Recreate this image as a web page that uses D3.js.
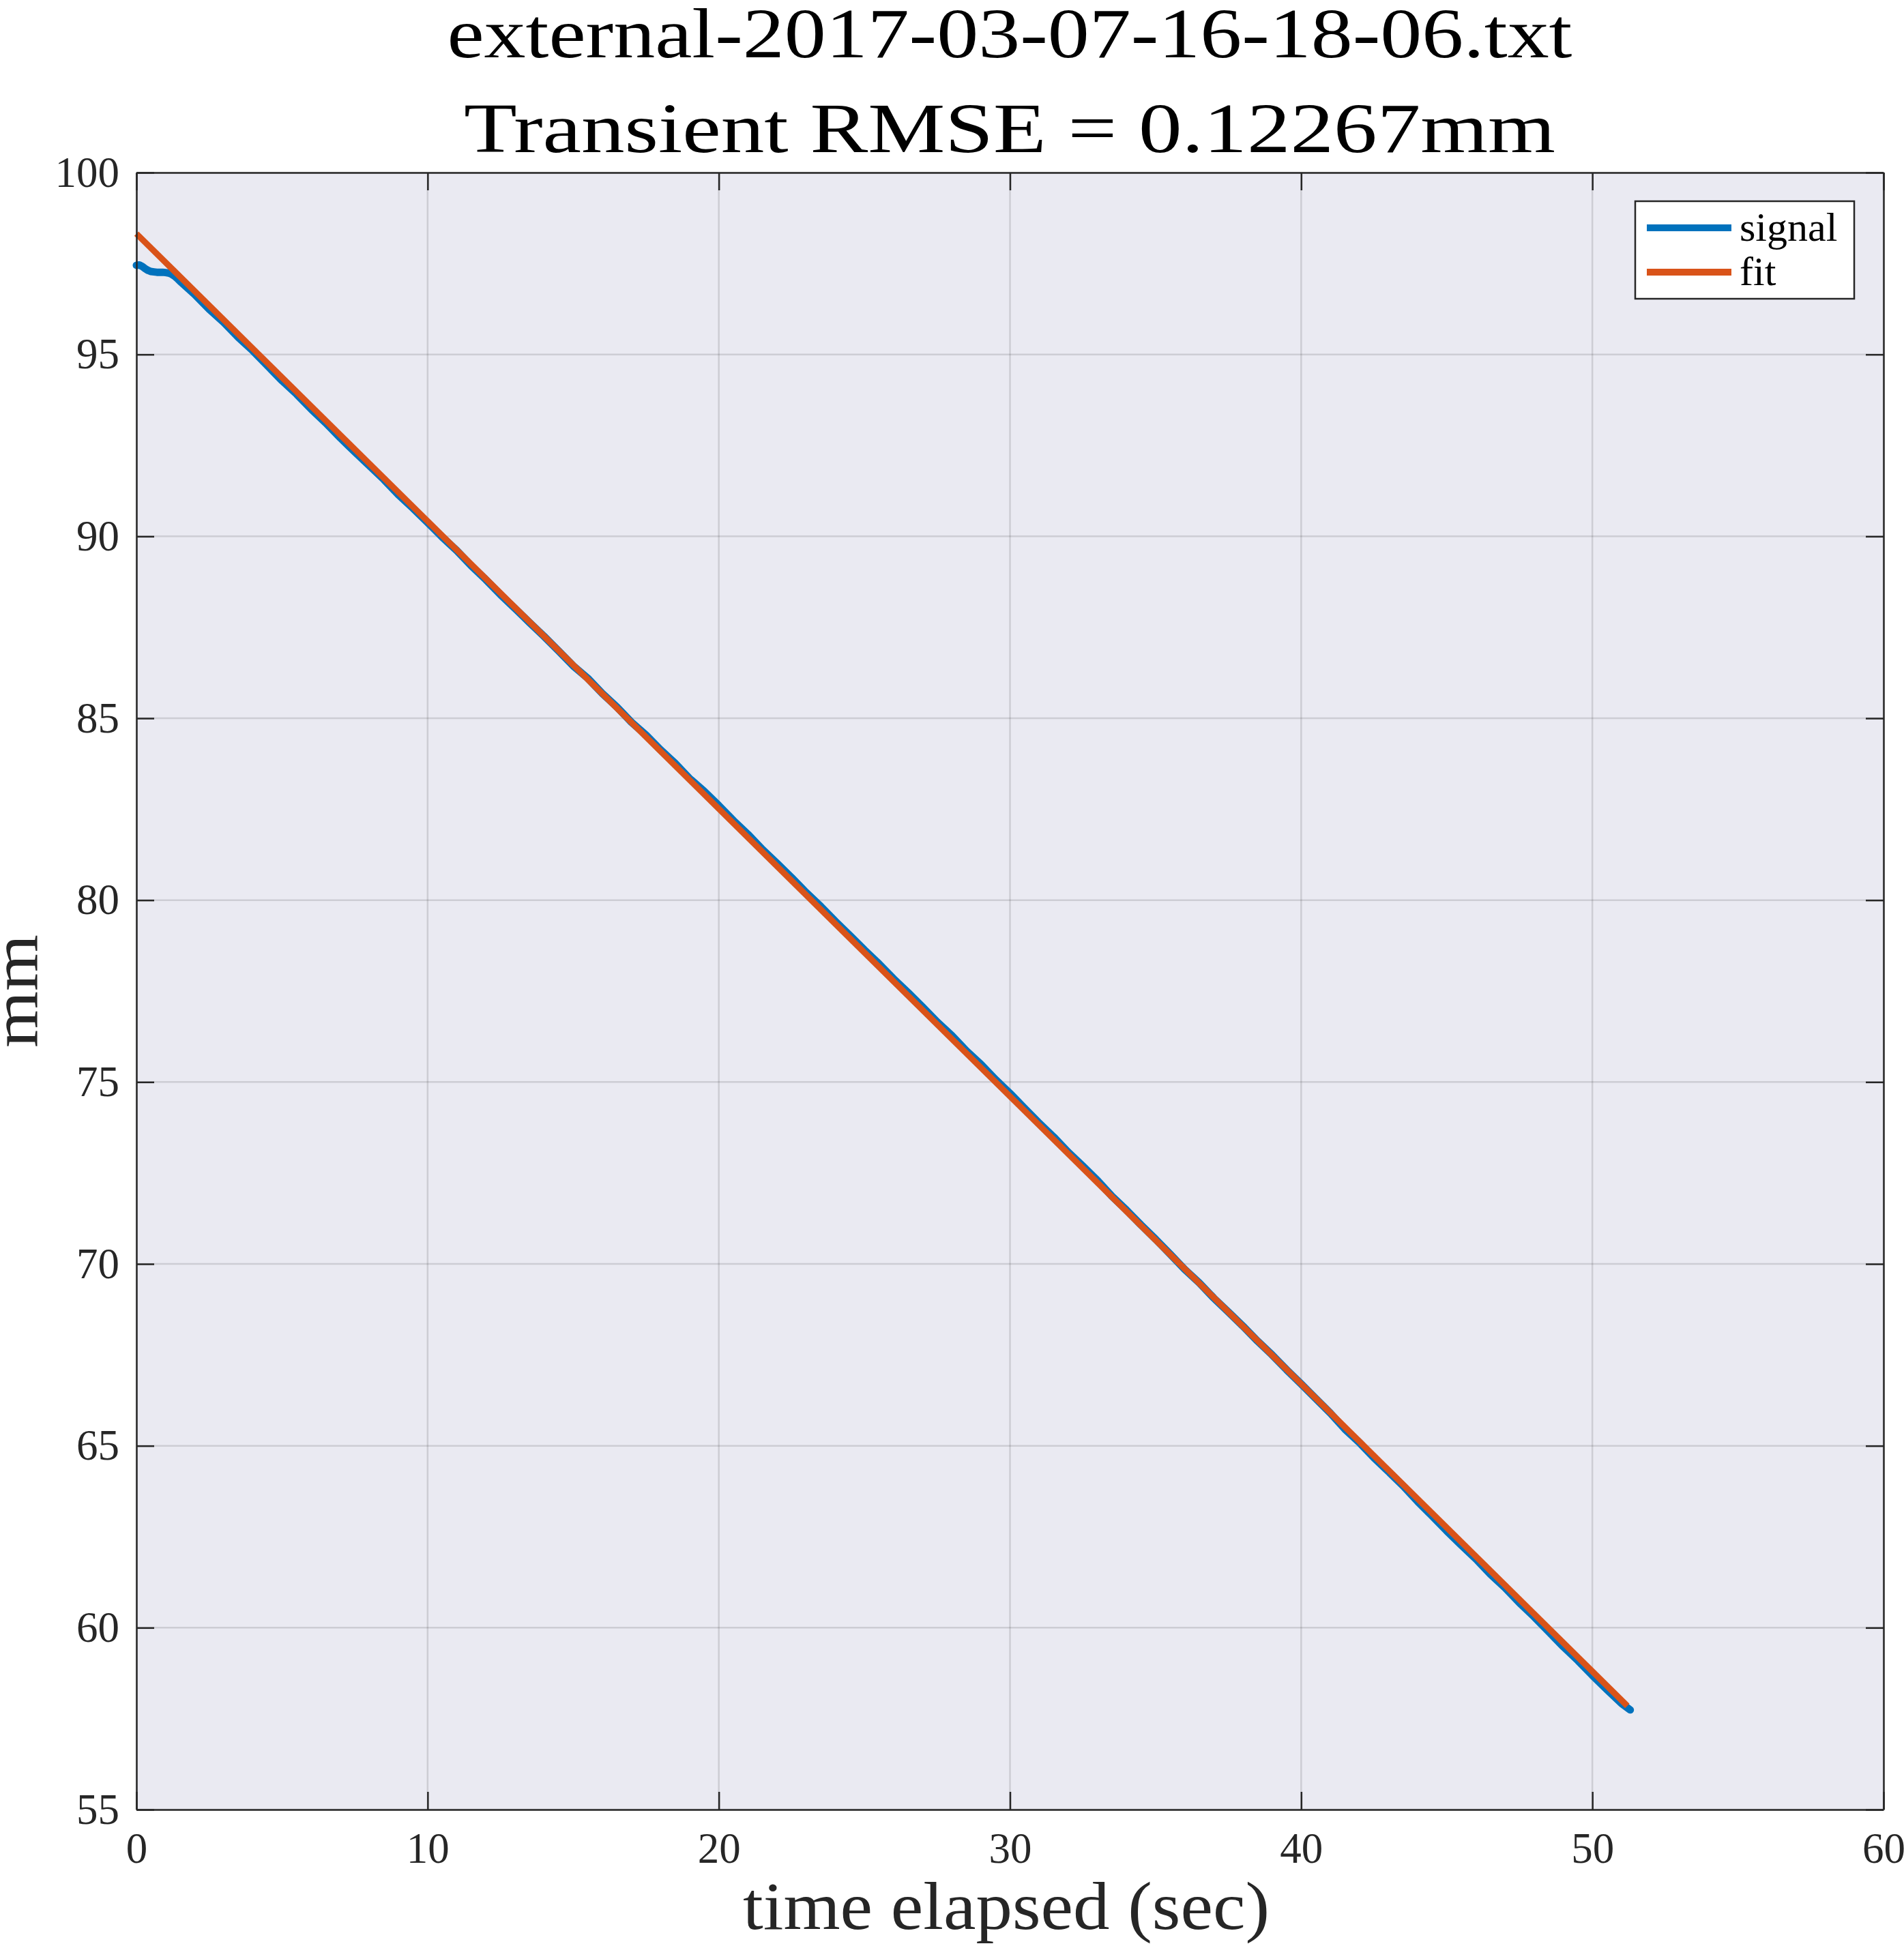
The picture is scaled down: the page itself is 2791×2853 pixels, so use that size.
<!DOCTYPE html>
<html>
<head>
<meta charset="utf-8">
<script src="https://cdn.jsdelivr.net/npm/d3@7"></script>
<style>
body { margin: 0; background: #fff; }
svg text { font-family: "Liberation Serif", "DejaVu Serif", serif; }
</style>
</head>
<body>
<script>
// measured signal (mm) against time (sec)
var signalTime = [0, 0.1, 0.2, 0.3, 0.4, 0.5, 0.6, 0.7, 0.8, 0.9, 1.0, 1.1, 1.2, 1.3, 1.4, 1.5,
    2, 2.5, 3, 3.5, 4, 4.5, 5, 5.5, 6, 6.5, 7, 7.5, 8, 8.5, 9, 9.5, 10, 10.5,
    11, 11.5, 12, 12.5, 13, 13.5, 14, 14.5, 15, 15.5, 16, 16.5, 17, 17.5, 18, 18.5,
    19, 19.5, 20, 20.5, 21, 21.5, 22, 22.5, 23, 23.5, 24, 24.5, 25, 25.5, 26, 26.5,
    27, 27.5, 28, 28.5, 29, 29.5, 30, 30.5, 31, 31.5, 32, 32.5, 33, 33.5, 34, 34.5,
    35, 35.5, 36, 36.5, 37, 37.5, 38, 38.5, 39, 39.5, 40, 40.5, 41, 41.5, 42, 42.5,
    43, 43.5, 44, 44.5, 45, 45.5, 46, 46.5, 47, 47.5, 48, 48.5, 49, 49.5, 50, 50.5,
    51, 51.3];
var signalValue = [97.45, 97.46, 97.42, 97.36, 97.31, 97.28, 97.27, 97.26, 97.26, 97.26, 97.25, 97.24, 97.21, 97.16, 97.09, 97.01,
    96.65, 96.24, 95.88, 95.47, 95.10, 94.69, 94.28, 93.91, 93.50, 93.12, 92.71, 92.32, 91.94, 91.56, 91.14, 90.77, 90.38, 89.98,
    89.61, 89.19, 88.81, 88.40, 88.02, 87.63, 87.25, 86.85, 86.44, 86.10, 85.68, 85.31, 84.89, 84.54, 84.13, 83.76,
    83.34, 82.99, 82.60, 82.19, 81.81, 81.39, 81.01, 80.62, 80.21, 79.83, 79.42, 79.03, 78.63, 78.25, 77.84, 77.46,
    77.06, 76.65, 76.28, 75.86, 75.49, 75.07, 74.69, 74.28, 73.87, 73.49, 73.07, 72.69, 72.30, 71.86, 71.48, 71.07,
    70.68, 70.27, 69.85, 69.48, 69.06, 68.68, 68.29, 67.88, 67.50, 67.09, 66.70, 66.30, 65.90, 65.46, 65.09, 64.67,
    64.29, 63.90, 63.47, 63.07, 62.66, 62.27, 61.89, 61.47, 61.10, 60.68, 60.30, 59.89, 59.48, 59.10, 58.69, 58.30,
    57.92, 57.74];

// linear fit
var fitTime = [0, 51.2];
var fitValue = [98.32, 57.85];

var xTicks = [0, 10, 20, 30, 40, 50, 60];
var yTicks = [55, 60, 65, 70, 75, 80, 85, 90, 95, 100];
var titleLines = ["external-2017-03-07-16-18-06.txt", "Transient RMSE = 0.12267mm"];
var seriesNames = ["signal", "fit"];

var blue = "#0072bd", orange = "#d95319", axisColor = "#262626";
var width = 2791, height = 2853;
var plotL = 200, plotR = 2761, plotT = 253, plotB = 2653;

var x = d3.scaleLinear().domain([0, 60]).range([plotL, plotR]);
var y = d3.scaleLinear().domain([55, 100]).range([plotB, plotT]);

var svg = d3.select("body").append("svg")
    .attr("width", width)
    .attr("height", height);

svg.append("rect")
    .attr("x", plotL).attr("y", plotT)
    .attr("width", plotR - plotL).attr("height", plotB - plotT)
    .attr("fill", "#eaeaf2");

// grid
var grid = svg.append("g").attr("class", "grid");
grid.selectAll(".gx").data(xTicks).enter().append("line")
    .attr("x1", d => x(d)).attr("x2", d => x(d))
    .attr("y1", plotT).attr("y2", plotB);
grid.selectAll(".gy").data(yTicks).enter().append("line")
    .attr("x1", plotL).attr("x2", plotR)
    .attr("y1", d => y(d)).attr("y2", d => y(d));
grid.selectAll("line")
    .attr("stroke", axisColor)
    .attr("stroke-opacity", 0.15)
    .attr("stroke-width", 2.5);

// lines
var signal = signalTime.map((t, i) => [t, signalValue[i]]);
var fit = fitTime.map((t, i) => [t, fitValue[i]]);
var line = d3.line().x(d => x(d[0])).y(d => y(d[1]));

svg.append("path")
    .datum(signal)
    .attr("d", line)
    .attr("fill", "none")
    .attr("stroke", blue)
    .attr("stroke-width", 11)
    .attr("stroke-linecap", "round")
    .attr("stroke-linejoin", "round");

svg.append("path")
    .datum(fit)
    .attr("d", line)
    .attr("fill", "none")
    .attr("stroke", orange)
    .attr("stroke-width", 9);

// axes, ticks inside on all four sides
var tickLen = 26;
var axB = svg.append("g").attr("transform", "translate(0," + plotB + ")")
    .call(d3.axisBottom(x).tickValues(xTicks).tickSizeInner(-tickLen).tickSizeOuter(0).tickPadding(33));
var axL = svg.append("g").attr("transform", "translate(" + plotL + ",0)")
    .call(d3.axisLeft(y).tickValues(yTicks).tickSizeInner(-tickLen).tickSizeOuter(0).tickPadding(25));
var axT = svg.append("g").attr("transform", "translate(0," + plotT + ")")
    .call(d3.axisTop(x).tickValues(xTicks).tickSizeInner(-tickLen).tickSizeOuter(0).tickFormat(""));
var axR = svg.append("g").attr("transform", "translate(" + plotR + ",0)")
    .call(d3.axisRight(y).tickValues(yTicks).tickSizeInner(-tickLen).tickSizeOuter(0).tickFormat(""));

[axB, axL, axT, axR].forEach(function (a) {
    a.attr("font-family", null).attr("font-size", 63);
    a.selectAll("path, line").attr("stroke", axisColor).attr("stroke-width", 2.5);
    a.selectAll("text").attr("fill", axisColor);
});

// legend
var lg = svg.append("g");
lg.append("rect")
    .attr("x", 2397).attr("y", 295)
    .attr("width", 321).attr("height", 143)
    .attr("fill", "#fff")
    .attr("stroke", axisColor)
    .attr("stroke-width", 2.5);
var items = lg.selectAll(".item").data(seriesNames).enter().append("g")
    .attr("transform", (d, i) => "translate(0," + (334 + i * 65) + ")");
items.append("line")
    .attr("x1", 2414).attr("x2", 2538)
    .attr("stroke", (d, i) => i === 0 ? blue : orange)
    .attr("stroke-width", 10);
items.append("text")
    .attr("x", 2550).attr("y", 19)
    .attr("font-size", 60)
    .attr("fill", "#000")
    .text(d => d);

// titles and labels
svg.selectAll(".title").data(titleLines).enter().append("text")
    .attr("x", 1480)
    .attr("y", (d, i) => 84 + i * 139)
    .attr("text-anchor", "middle")
    .attr("font-size", 104)
    .attr("textLength", (d, i) => i === 0 ? 1649 : 1600)
    .attr("lengthAdjust", "spacingAndGlyphs")
    .attr("fill", "#000")
    .text(d => d);

svg.append("text")
    .attr("x", 1475).attr("y", 2828)
    .attr("text-anchor", "middle")
    .attr("font-size", 100)
    .attr("textLength", 772)
    .attr("lengthAdjust", "spacingAndGlyphs")
    .attr("fill", axisColor)
    .text("time elapsed (sec)");

svg.append("text")
    .attr("transform", "translate(54,1453) rotate(-90)")
    .attr("text-anchor", "middle")
    .attr("font-size", 96)
    .attr("textLength", 166)
    .attr("lengthAdjust", "spacingAndGlyphs")
    .attr("fill", axisColor)
    .text("mm");
</script>
</body>
</html>
